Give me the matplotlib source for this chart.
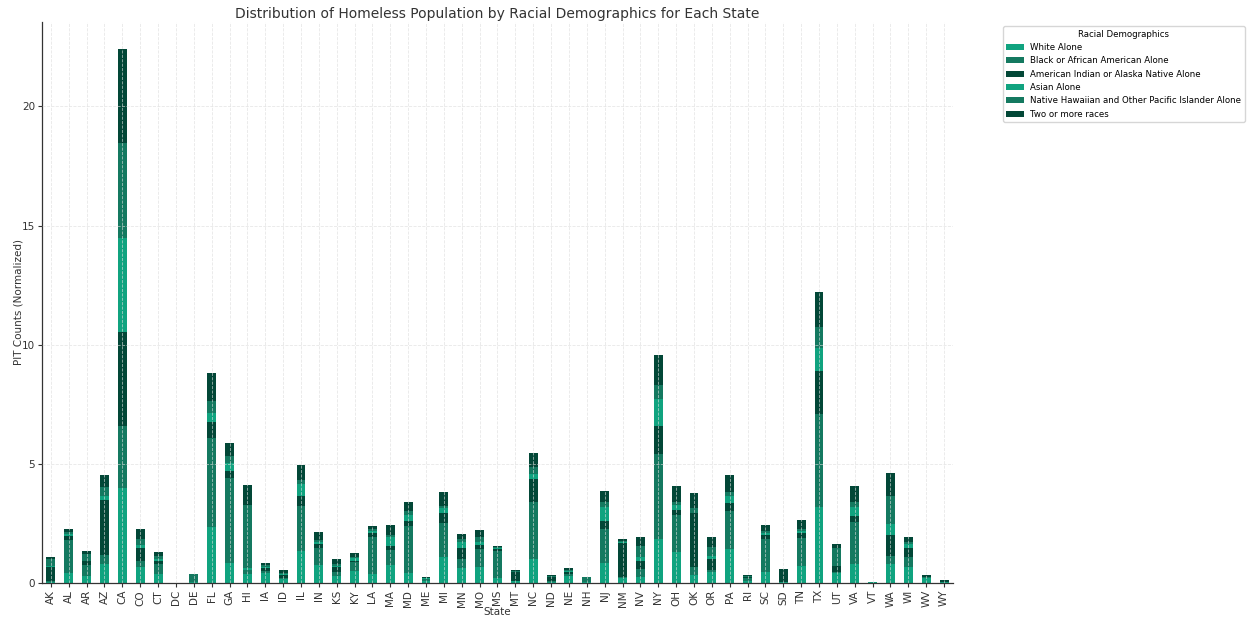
import matplotlib
matplotlib.use('Agg')
import matplotlib.pyplot as plt
import numpy as np

# штаты и значения (нормированные PIT counts)
states = ['AK', 'AL', 'AR', 'AZ', 'CA', 'CO', 'CT', 'DC', 'DE', 'FL', 'GA', 'HI', 'IA', 'ID', 'IL', 'IN', 'KS',
          'KY', 'LA', 'MA', 'MD', 'ME', 'MI', 'MN', 'MO', 'MS', 'MT', 'NC', 'ND', 'NE', 'NH', 'NJ', 'NM', 'NV',
          'NY', 'OH', 'OK', 'OR', 'PA', 'RI', 'SC', 'SD', 'TN', 'TX', 'UT', 'VA', 'VT', 'WA', 'WI', 'WV', 'WY']

white = [0.05, 0.43, 0.29, 0.80, 3.97, 0.66, 0.36, 0.00, 0.04, 2.34, 0.85, 0.38, 0.41, 0.17, 1.34, 0.76, 0.31,
         0.50, 0.36, 0.76, 0.43, 0.10, 1.08, 0.63, 0.69, 0.22, 0.08, 1.01, 0.05, 0.28, 0.06, 0.85, 0.20, 0.27,
         1.85, 1.30, 0.34, 0.48, 1.43, 0.10, 0.45, 0.03, 0.71, 3.19, 0.40, 0.80, 0.02, 0.80, 0.69, 0.22, 0.02]
black = [0.03, 1.37, 0.46, 0.38, 2.60, 0.25, 0.43, 0.00, 0.28, 3.74, 3.54, 0.15, 0.11, 0.03, 1.89, 0.70, 0.15,
         0.39, 1.57, 0.62, 1.96, 0.05, 1.44, 0.39, 0.73, 1.12, 0.02, 2.37, 0.05, 0.08, 0.14, 1.40, 0.03, 0.31,
         3.56, 1.55, 0.32, 0.07, 1.60, 0.10, 1.40, 0.02, 1.18, 3.89, 0.05, 1.74, 0.01, 0.34, 0.38, 0.04, 0.01]
amind = [0.61, 0.17, 0.17, 2.31, 3.97, 0.57, 0.13, 0.00, 0.01, 0.66, 0.32, 0.03, 0.10, 0.15, 0.42, 0.17, 0.21,
         0.04, 0.18, 0.18, 0.21, 0.02, 0.42, 0.43, 0.18, 0.10, 0.36, 0.98, 0.16, 0.10, 0.01, 0.34, 1.44, 0.34,
         1.18, 0.21, 2.27, 0.46, 0.31, 0.04, 0.18, 0.45, 0.20, 1.81, 0.25, 0.25, 0.00, 0.87, 0.41, 0.02, 0.08]
asian = [0.02, 0.08, 0.02, 0.17, 3.94, 0.11, 0.08, 0.00, 0.01, 0.39, 0.31, 0.05, 0.07, 0.02, 0.50, 0.10, 0.06,
         0.10, 0.08, 0.36, 0.25, 0.02, 0.22, 0.27, 0.10, 0.02, 0.02, 0.21, 0.01, 0.03, 0.01, 0.59, 0.04, 0.17,
         1.15, 0.20, 0.00, 0.13, 0.32, 0.02, 0.06, 0.01, 0.08, 0.99, 0.03, 0.38, 0.00, 0.48, 0.15, 0.01, 0.00]
nhpi = [0.30, 0.08, 0.28, 0.38, 4.00, 0.24, 0.13, 0.00, 0.02, 0.50, 0.31, 2.67, 0.07, 0.06, 0.17, 0.08, 0.07,
        0.07, 0.08, 0.10, 0.17, 0.02, 0.08, 0.11, 0.21, 0.04, 0.02, 0.30, 0.02, 0.05, 0.01, 0.22, 0.06, 0.48,
        0.55, 0.14, 0.21, 0.36, 0.17, 0.02, 0.10, 0.01, 0.11, 0.87, 0.73, 0.21, 0.00, 1.18, 0.10, 0.01, 0.00]
two = [0.07, 0.15, 0.13, 0.50, 3.94, 0.43, 0.15, 0.00, 0.02, 1.18, 0.55, 0.84, 0.08, 0.10, 0.62, 0.32, 0.20,
       0.17, 0.13, 0.42, 0.39, 0.03, 0.59, 0.24, 0.31, 0.06, 0.06, 0.58, 0.05, 0.08, 0.01, 0.46, 0.06, 0.34,
       1.26, 0.67, 0.62, 0.42, 0.70, 0.06, 0.24, 0.05, 0.35, 1.47, 0.18, 0.67, 0.01, 0.94, 0.20, 0.04, 0.02]

races = ['White Alone', 'Black or African American Alone', 'American Indian or Alaska Native Alone',
         'Asian Alone', 'Native Hawaiian and Other Pacific Islander Alone', 'Two or more races']
series = [white, black, amind, asian, nhpi, two]
colors = ['#10A37F', '#147960', '#024737']  # цвета повторяются по кругу

plt.rcParams['font.family'] = 'DejaVu Sans'
fig = plt.figure(figsize=(12.49, 6.19), dpi=100)
ax = fig.add_axes([0.0336, 0.0582, 0.7294, 0.9063])

x = np.arange(len(states))
bottom = np.zeros(len(states))
for i, (name, vals) in enumerate(zip(races, series)):
    vals = np.array(vals)
    ax.bar(x, vals, width=0.5, bottom=bottom, color=colors[i % 3], label=name)
    bottom += vals

ax.set_xlim(-0.5, len(states) - 0.5)
ax.set_xticks(x)
ax.set_xticklabels(states, rotation=90)
ax.set_yticks([0, 5, 10, 15, 20])
ax.tick_params(labelsize=7.5, colors='#333333', length=3, width=0.8, pad=2)

# сетка поверх столбцов, пунктир
ax.set_axisbelow(False)
ax.grid(True, linestyle='--', color='#dddddd', linewidth=0.6, alpha=0.7)

for s in ['top', 'right']:
    ax.spines[s].set_visible(False)
for s in ['left', 'bottom']:
    ax.spines[s].set_color('#333333')
    ax.spines[s].set_linewidth(0.9)

ax.set_title('Distribution of Homeless Population by Racial Demographics for Each State',
             fontsize=10, color='#333333', pad=3)
ax.set_xlabel('State', fontsize=7.5, color='#333333', labelpad=0)
ax.set_ylabel('PIT Counts (Normalized)', fontsize=7.5, color='#333333', labelpad=-1)

leg = ax.legend(title='Racial Demographics', bbox_to_anchor=(1.05, 1), loc='upper left',
                fontsize=6.2, title_fontsize=6.2, frameon=True)
leg.get_frame().set_edgecolor('#cccccc')

fig.savefig('out.png', dpi=100)
